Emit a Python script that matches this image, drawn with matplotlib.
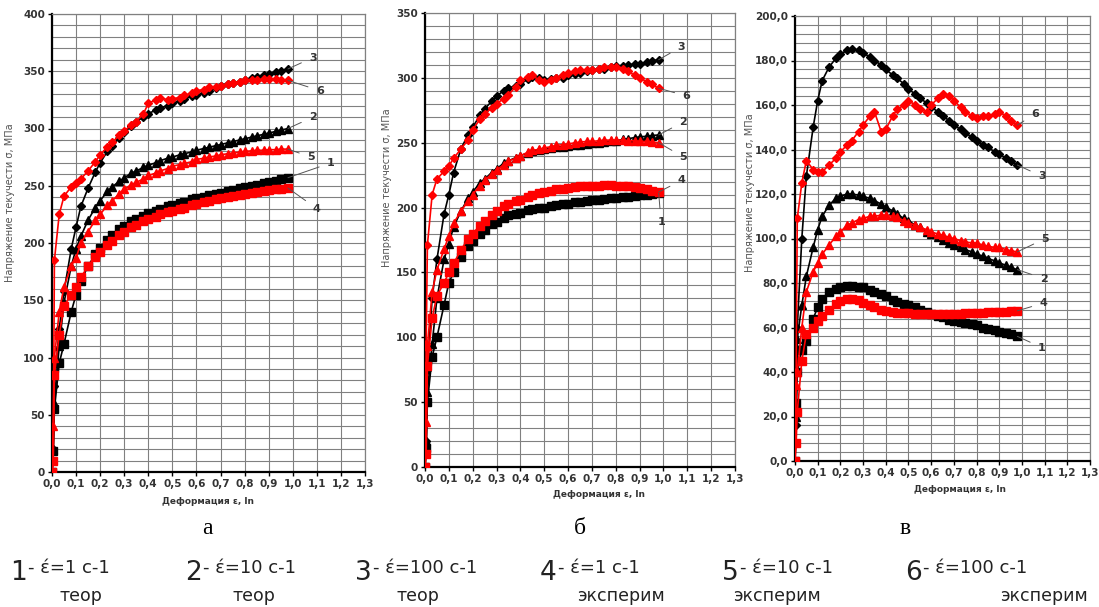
import numpy as np
import matplotlib.pyplot as plt
from matplotlib.ticker import MultipleLocator, FuncFormatter

# Кривые течения: деформация -> напряжение текучести (а, б, в)

eps = [0.0, 0.005, 0.01, 0.03, 0.05, 0.08, 0.10, 0.12, 0.15, 0.18, 0.20, 0.23, 0.25, 0.28,
       0.30, 0.33, 0.35, 0.38, 0.40, 0.43, 0.45, 0.48, 0.50, 0.53, 0.55, 0.58, 0.60, 0.63,
       0.65, 0.68, 0.70, 0.73, 0.75, 0.78, 0.80, 0.83, 0.85, 0.88, 0.90, 0.93, 0.95, 0.98]

# панель а
a1 = [0, 18, 55, 95, 112, 140, 155, 167, 180, 190, 196, 203, 207, 212, 215, 219, 221, 224, 226, 228, 230,
      232, 233, 235, 236, 238, 239, 240.5, 241.5, 243, 244, 245.5, 246.5, 248, 249, 250, 251, 252.5, 253,
      254.5, 255.5, 257]
a2 = [0, 20, 60, 110, 148, 180, 195, 206, 220, 231, 237, 245, 249, 254, 257, 261, 263, 266, 268, 270, 272,
      274, 275, 277, 278, 279.5, 281, 282.5, 283.5, 285, 286, 287.5, 288.5, 290, 291, 292.5, 293.5, 295, 296,
      297.5, 298.5, 300]
a3 = [0, 20, 75, 125, 158, 195, 214, 232, 248, 262, 270, 280, 285, 292, 297, 302, 306, 310, 313, 316, 318,
      320, 322, 324, 326, 328, 329, 331, 333, 335, 337, 338.5, 339.5, 341, 342, 344, 345, 347, 348, 349.5,
      350.5, 352]
a4 = [0, 10, 85, 120, 145, 155, 162, 170, 180, 188, 192, 198, 202, 207, 210, 214, 216, 219, 221, 223, 225,
      227, 228, 230, 231, 233, 234, 235.5, 236.5, 238, 239, 240, 241, 242, 243, 244, 244.5, 245.5, 246, 247,
      247.5, 248]
a5 = [0, 40, 100, 140, 162, 180, 187, 200, 210, 220, 225, 233, 237, 243, 247, 251, 253, 256, 259, 261, 263,
      265, 267, 268.5, 269.5, 271, 273, 274, 275, 276, 277, 278, 278.5, 279.5, 280, 280.5, 281, 281, 281.5,
      281.5, 282, 282]
a6 = [0, 10, 185, 225, 241, 249, 252, 256, 263, 271, 277, 284, 288, 294, 298, 303, 306, 313, 322, 325, 327,
      325, 326, 327, 329, 331, 333, 334, 336, 336, 337, 339, 340, 341, 342, 342, 342, 343, 343, 343, 342, 342]

# панель б
b1 = [0, 15, 50, 85, 100, 125, 142, 150, 162, 170, 174, 180, 183, 187, 189, 192, 194, 195, 196, 198, 199,
      199.5, 200, 201, 202, 202.5, 203, 204, 204.5, 205, 205.5, 206, 206.5, 207, 207.5, 208, 208.5, 209,
      209.5, 210, 210.5, 211]
b2 = [0, 20, 58, 95, 130, 160, 172, 185, 197, 207, 212, 219, 222, 227, 230, 234, 236, 238.5, 240, 242,
      243.5, 244.5, 245, 246, 246.5, 247, 247.5, 248, 248.5, 249, 249.5, 250, 250.5, 251, 251.5, 252.5, 253,
      254, 254.5, 255, 255.5, 256]
b3 = [0, 20, 75, 130, 160, 195, 210, 227, 245, 256, 262, 271, 276, 282, 286, 290, 292, 294, 295, 299, 301,
      300, 298, 299, 300, 300, 302, 303, 304, 305, 306, 306.5, 307, 308, 309, 309.5, 310, 310.5, 311, 312,
      313, 314]
b4 = [0, 10, 78, 115, 132, 142, 150, 157, 167, 176, 180, 186, 190, 194, 197, 201, 203, 205, 206, 208, 209.5,
      211, 212, 213, 214, 214.5, 215, 216, 216.5, 217, 217, 217, 217.5, 217.5, 217, 217, 216.5, 216, 215,
      214, 213, 212]
b5 = [0, 35, 93, 135, 152, 168, 178, 188, 197, 205, 210, 217, 221, 226, 229, 233, 236, 238, 240, 242.5, 244,
      245, 246, 247, 248, 248.5, 249, 250, 250.5, 251, 251, 251.5, 252, 252, 252, 252, 251.5, 251.5, 251,
      251, 250.5, 250]
b6 = [0, 95, 171, 210, 222, 228, 232, 238, 245, 252, 260, 268, 272, 277, 280, 284, 287, 293, 298, 301, 302,
      298, 297, 298, 300, 302, 304, 305, 306, 306, 306, 307, 308, 308, 308, 307, 305, 302, 300, 297, 295, 292]

# панель в
c1 = [0, 26, 40, 50, 54, 64, 69, 73, 76, 77.5, 78, 78.5, 78.5, 78, 78, 77, 76, 75, 74, 72.5, 71.5, 70.5,
      70, 69, 68, 67, 66, 65, 64.5, 63.5, 63, 62.5, 62, 61.5, 61, 60, 59.5, 59, 58, 57.5, 57, 56]
c2 = [0, 20, 55, 70, 83, 96, 104, 110, 115, 118, 119, 120, 120, 119.5, 119, 118, 117, 115.5, 114, 112.5,
      111, 109, 108, 106, 105, 103, 102, 100.5, 99.5, 98, 97, 96, 95, 94, 93, 92, 91, 90, 89, 88, 87, 86]
c3 = [0, 16, 60, 100, 128, 150, 162, 171, 177, 181, 183, 184.5, 185, 184.5, 183.5, 181.5, 180, 178, 176,
      173.5, 172, 169.5, 167, 165, 163, 161, 159, 157, 155, 153, 151, 149, 147.5, 145.5, 144, 142, 141,
      139, 138, 136, 135, 133]
c4 = [0, 8, 22, 45, 57, 60, 63, 65, 68, 70.5, 72, 73, 73, 72.5, 71, 70, 69, 68, 67.5, 67, 66.5, 66.5, 66.5,
      66, 66, 66, 66, 66, 66, 66, 66, 66, 66.5, 66.5, 66.5, 66.5, 67, 67, 67, 67, 67.5, 67.5]
c5 = [0, 34, 40, 60, 76, 85, 89, 93, 97, 101, 103, 106, 107, 108.5, 109, 110, 110, 110.5, 110.5, 110, 109.5,
      108, 107, 106, 105, 104, 103, 102, 101.5, 100.5, 100, 99, 98.5, 98, 98, 97, 96.5, 96, 96, 95, 94.5, 94]
c6 = [0, 40, 109, 125, 135, 131, 130, 130, 133, 136, 139, 142, 144, 148, 151, 155, 157, 148, 149, 155, 158,
      160, 162, 160, 158, 157, 160, 163, 165, 164, 162, 159, 157, 155, 154, 155, 155, 156, 157, 155, 153, 151]

# подписи кривых (номер, положение текста)
lab_a = [("3", 1.084, 362), ("6", 1.113, 333), ("2", 1.084, 310),
         ("5", 1.076, 275), ("1", 1.159, 270), ("4", 1.10, 230)]
lab_b = [("3", 1.076, 324), ("6", 1.097, 286), ("2", 1.083, 266),
         ("5", 1.083, 239), ("4", 1.076, 221), ("1", 0.99, 189)]
lab_c = [("6", 1.059, 156), ("3", 1.088, 128), ("5", 1.103, 100),
         ("2", 1.096, 82), ("4", 1.096, 71), ("1", 1.088, 51)]

series_style = {
    "1": ("black", "s", 5.5), "2": ("black", "^", 6), "3": ("black", "D", 4.5),
    "4": ("red", "s", 5.5), "5": ("red", "^", 6), "6": ("red", "D", 4.5),
}

fig = plt.figure(figsize=(10.99, 6.07), dpi=100)
W, H = 1099, 607


def px_axes(l, t, r, b):
    return fig.add_axes([l / W, (H - b) / H, (r - l) / W, (b - t) / H])


panels = [
    (px_axes(52, 14, 365, 472), {"1": a1, "2": a2, "3": a3, "4": a4, "5": a5, "6": a6},
     400, 50, 10, lab_a, "{:.0f}", -0.118, 0.587, 0.5, -0.055, "а", 207),
    (px_axes(425, 13, 735, 467), {"1": b1, "2": b2, "3": b3, "4": b4, "5": b5, "6": b6},
     350, 50, 10, lab_b, "{:.0f}", -0.106, 0.615, 0.56, -0.05, "б", 580),
    (px_axes(795, 16, 1090, 461), {"1": c1, "2": c2, "3": c3, "4": c4, "5": c5, "6": c6},
     200, 20, 4, lab_c, "{:.1f}", -0.136, 0.604, 0.56, -0.055, "в", 905),
]

for ax, data, ymax, ymaj, ymin_step, labs, yfmt, ylx, yly, xlx, xly, letter, letter_x in panels:
    for key in ["1", "2", "3", "4", "5", "6"]:
        col, mk, ms = series_style[key]
        ax.plot(eps, data[key], color=col, marker=mk, markersize=ms, lw=1.2,
                markeredgecolor=col, zorder=3)
    ends = {k: (eps[-1], data[k][-1]) for k in data}
    for name, tx, ty in labs:
        ax.annotate(name, xy=ends[name], xytext=(tx, ty), fontsize=8, fontweight="bold",
                    color="#333333", ha="center", va="center",
                    arrowprops=dict(arrowstyle="-", color="#555555", lw=0.7,
                                    shrinkA=4, shrinkB=0))
    ax.set_xlim(0, 1.3)
    ax.set_ylim(0, ymax)
    ax.xaxis.set_major_locator(MultipleLocator(0.1))
    ax.yaxis.set_major_locator(MultipleLocator(ymaj))
    ax.yaxis.set_minor_locator(MultipleLocator(ymin_step))
    ax.xaxis.set_major_formatter(FuncFormatter(lambda v, p: f"{v:.1f}".replace(".", ",")))
    ax.yaxis.set_major_formatter(FuncFormatter(lambda v, p, f=yfmt: f.format(v).replace(".", ",")))
    ax.grid(True, which="major", axis="x", color="#808080", lw=0.8)
    ax.grid(True, which="both", axis="y", color="#808080", lw=0.8)
    ax.set_axisbelow(True)
    ax.tick_params(axis="both", labelsize=7.5, labelcolor="#333333", length=3, width=1, pad=2)
    ax.tick_params(axis="y", which="minor", length=0)
    for lbl in ax.get_xticklabels() + ax.get_yticklabels():
        lbl.set_fontweight("bold")
    for side in ["left", "bottom"]:
        ax.spines[side].set_linewidth(1.6)
        ax.spines[side].set_color("black")
    for side in ["top", "right"]:
        ax.spines[side].set_linewidth(0.9)
        ax.spines[side].set_color("#808080")
    ax.set_ylabel("Напряжение текучести σ, МПа", fontsize=7, color="#555555")
    ax.yaxis.set_label_coords(ylx, yly)
    ax.set_xlabel("Деформация ε, ln", fontsize=6.5, fontweight="bold", color="#333333")
    ax.xaxis.set_label_coords(xlx, xly)
    fig.text(letter_x / W, 1 - 528 / H, letter, fontsize=17, family="Liberation Serif",
             ha="center", va="center")

# подпись-легенда внизу
leg_num = ["1", "2", "3", "4", "5", "6"]
leg_rate = ["έ=1 с-1", "έ=10 с-1", "έ=100 с-1", "έ=1 с-1", "έ=10 с-1", "έ=100 с-1"]
leg_kind = ["теор", "теор", "теор", "эксперим", "эксперим", "эксперим"]
leg_x = [10, 185, 355, 540, 722, 905]
leg_kind_x = [81, 254, 418, 621, 777, 1044]
for n, r, k, x0, kx in zip(leg_num, leg_rate, leg_kind, leg_x, leg_kind_x):
    fig.text(x0 / W, 1 - 573 / H, n, fontsize=19, ha="left", va="center",
             color="#222222")
    fig.text((x0 + 18) / W, 1 - 568 / H, "- " + r, fontsize=13, ha="left", va="center",
             color="#222222")
    fig.text(kx / W, 1 - 596 / H, k, fontsize=12.5, ha="center", va="center",
             color="#222222")

fig.savefig("out.png", dpi=100)
